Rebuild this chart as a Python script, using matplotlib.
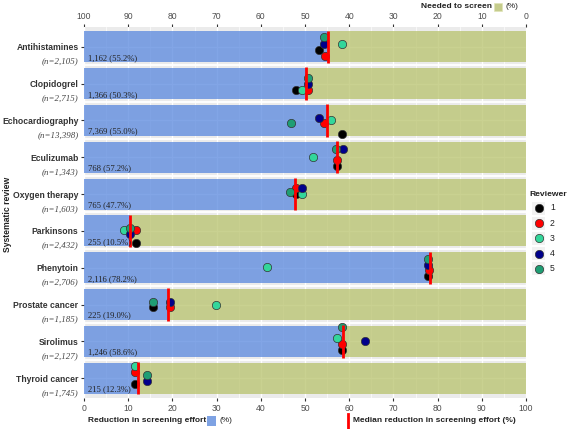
import numpy as np
import matplotlib
matplotlib.use("Agg")
import matplotlib.pyplot as plt
from matplotlib.patches import Rectangle
from matplotlib.lines import Line2D
from matplotlib.transforms import blended_transform_factory

# systematic reviews (top to bottom)
reviews = ["Antihistamines", "Clopidogrel", "Echocardiography", "Eculizumab",
           "Oxygen therapy", "Parkinsons", "Phenytoin", "Prostate cancer",
           "Sirolimus", "Thyroid cancer"]
n_total = ["2,105", "2,715", "13,398", "1,343", "1,603",
           "2,432", "2,706", "1,185", "2,127", "1,745"]
n_saved = ["1,162", "1,366", "7,369", "768", "765",
           "255", "2,116", "225", "1,246", "215"]
median_red = [55.2, 50.3, 55.0, 57.2, 47.7, 10.5, 78.2, 19.0, 58.6, 12.3]

# reduction (%) per reviewer
rev1 = [53.2, 48.0, 58.4, 57.2, 48.0, 11.7, 77.9, 15.5, 58.4, 11.5]
rev2 = [54.5, 50.7, 54.3, 57.2, 48.0, 11.7, 78.0, 19.5, 58.4, 11.5]
rev3 = [58.4, 49.3, 55.9, 51.8, 49.3, 9.0, 41.4, 29.9, 57.2, 11.5]
rev4 = [54.3, 50.7, 53.2, 58.6, 49.3, 10.4, 77.9, 19.5, 63.6, 14.2]
rev5 = [54.3, 50.7, 46.8, 57.0, 46.6, 10.4, 77.9, 15.5, 58.4, 14.2]
# vertical jitter of the points (fraction of a row)
jit1 = [0.08, 0.16, 0.38, 0.24, 0.00, 0.33, 0.22, 0.08, 0.24, 0.16]
jit2 = [0.24, 0.16, 0.08, 0.08, -0.16, -0.03, 0.05, 0.08, 0.08, -0.16]
jit3 = [-0.08, 0.16, 0.00, 0.00, 0.00, -0.03, -0.03, 0.00, -0.08, -0.33]
jit4 = [-0.08, 0.00, -0.08, -0.22, -0.16, 0.08, -0.08, -0.08, 0.00, 0.08]
jit5 = [-0.27, -0.16, 0.08, -0.22, -0.05, -0.08, -0.24, -0.08, -0.38, -0.08]

reviewer_vals = [rev1, rev2, rev3, rev4, rev5]
reviewer_jit = [jit1, jit2, jit3, jit4, jit5]
reviewer_labels = ["1", "2", "3", "4", "5"]
reviewer_cols = ["#000000", "#ff0000", "#33d69a", "#00008b", "#1f9e74"]

blue = "#5887de"
green = "#b8c26c"
blue_sw = "#7ea2e3"
green_sw = "#c5cc8c"
txt = "#333333"
sans = "Liberation Sans"
serif = "Liberation Serif"

fig = plt.figure(figsize=(5.67, 4.29), dpi=100)
ax = fig.add_axes([84/567, 31/429, 442/567, 371/429])
ax.set_facecolor("#ebebeb")

y = np.arange(len(reviews))
red = np.array(median_red)
ax.barh(y, red, left=0, height=0.84, color=blue, alpha=0.75, zorder=2)
ax.barh(y, 100 - red, left=red, height=0.84, color=green, alpha=0.75, zorder=2)

for i in range(len(reviews)):
    ax.plot([red[i], red[i]], [i - 0.44, i + 0.44], color="#ff0000", lw=2, zorder=5,
            solid_capstyle="butt")
    ax.text(0.9, i + 0.3, f"{n_saved[i]} ({median_red[i]:.1f}%)", fontsize=6.2,
            family=serif, color="#222222", va="center", ha="left", zorder=6)

for vals, jit, col in zip(reviewer_vals, reviewer_jit, reviewer_cols):
    ax.scatter(vals, y + np.array(jit), s=36, color=col, edgecolors="#333333",
               linewidths=0.5, zorder=4)

ax.set_xlim(0, 100)
ax.set_ylim(len(reviews) - 1 + 0.54, -0.54)
ax.set_xticks(np.arange(0, 101, 10))
ax.set_xticks(np.arange(5, 100, 10), minor=True)
ax.set_yticks(y)
ax.set_yticks(y[:-1] + 0.5, minor=True)
ax.set_yticklabels(reviews, fontsize=6.2, family=sans, fontweight="bold", color=txt)
ax.grid(which="major", color="white", lw=1.0, zorder=1)
ax.grid(which="minor", axis="x", color="white", lw=0.5, zorder=1)
ax.grid(which="minor", axis="y", color="white", lw=1.3, zorder=1)
ax.set_axisbelow(True)
for s in ax.spines.values():
    s.set_visible(False)
ax.tick_params(axis="both", which="minor", length=0)
ax.tick_params(axis="both", which="major", length=2.5, color="#333333", pad=1.5)
ax.tick_params(axis="x", labelsize=6.2, labelcolor="#4d4d4d")
for lab in ax.get_xticklabels():
    lab.set_family(sans)

tr = blended_transform_factory(ax.transAxes, ax.transData)
for i in range(len(reviews)):
    ax.text(-0.012, i + 0.4, f"(n={n_total[i]})", transform=tr, fontsize=6.4,
            family=serif, style="italic", color="#444444", ha="right", va="center")

top = ax.secondary_xaxis("top", functions=(lambda v: 100 - v, lambda v: 100 - v))
top.set_xticks(np.arange(0, 101, 10))
top.tick_params(length=2.5, color="#333333", pad=1.5, labelsize=6.2, labelcolor="#4d4d4d")
for lab in top.get_xticklabels():
    lab.set_family(sans)
top.spines["top"].set_visible(False)

fig.text(8/567, 1 - 214/429, "Systematic review", rotation=90, fontsize=6.2,
         family=sans, fontweight="bold", color="#222222", ha="center", va="center")

# top legend
fig.text(492/567, 1 - 7/429, "Needed to screen", fontsize=6, family=sans,
         fontweight="bold", color="#222222", ha="right", va="center")
fig.add_artist(Rectangle((494/567, 1 - 11/429), 8/567, 8/429, transform=fig.transFigure,
                         facecolor=green_sw, edgecolor="#e0e4b8", lw=0.5))
fig.text(506/567, 1 - 7/429, "(%)", fontsize=6, family=sans, color="#222222",
         ha="left", va="center")

# bottom legends
fig.text(88/567, 1 - 421/429, "Reduction in screening effort", fontsize=6, family=sans,
         fontweight="bold", color="#222222", ha="left", va="center")
fig.add_artist(Rectangle((207/567, 1 - 426/429), 9/567, 10/429, transform=fig.transFigure,
                         facecolor=blue_sw, edgecolor="none"))
fig.text(220/567, 1 - 421/429, "(%)", fontsize=6, family=sans, color="#222222",
         ha="left", va="center")
fig.add_artist(Line2D([348/567, 348/567], [1 - 428/429, 1 - 414/429],
                      transform=fig.transFigure, color="#ff0000", lw=2))
fig.text(353/567, 1 - 421/429, "Median reduction in screening effort (%)", fontsize=6,
         family=sans, fontweight="bold", color="#222222", ha="left", va="center")

# reviewer legend
fig.text(529/567, 1 - 194/429, "Reviewer", fontsize=6.1, family=sans, fontweight="bold",
         color="#222222", ha="left", va="center")
for k, (lab, col) in enumerate(zip(reviewer_labels, reviewer_cols)):
    yy = 1 - (208 + 15.2 * k) / 429
    fig.add_artist(Rectangle((532/567, yy - 6.5/429), 13/567, 13/429,
                             transform=fig.transFigure, facecolor="#f2f2f2",
                             edgecolor="none"))
    fig.add_artist(Line2D([538.5/567], [yy], transform=fig.transFigure, marker="o",
                          markersize=6, markerfacecolor=col,
                          markeredgecolor="#333333", markeredgewidth=0.5, lw=0))
    fig.text(550/567, yy, lab, fontsize=6.2, family=sans, color="#222222",
             ha="left", va="center")

fig.savefig("out.png", dpi=100)
